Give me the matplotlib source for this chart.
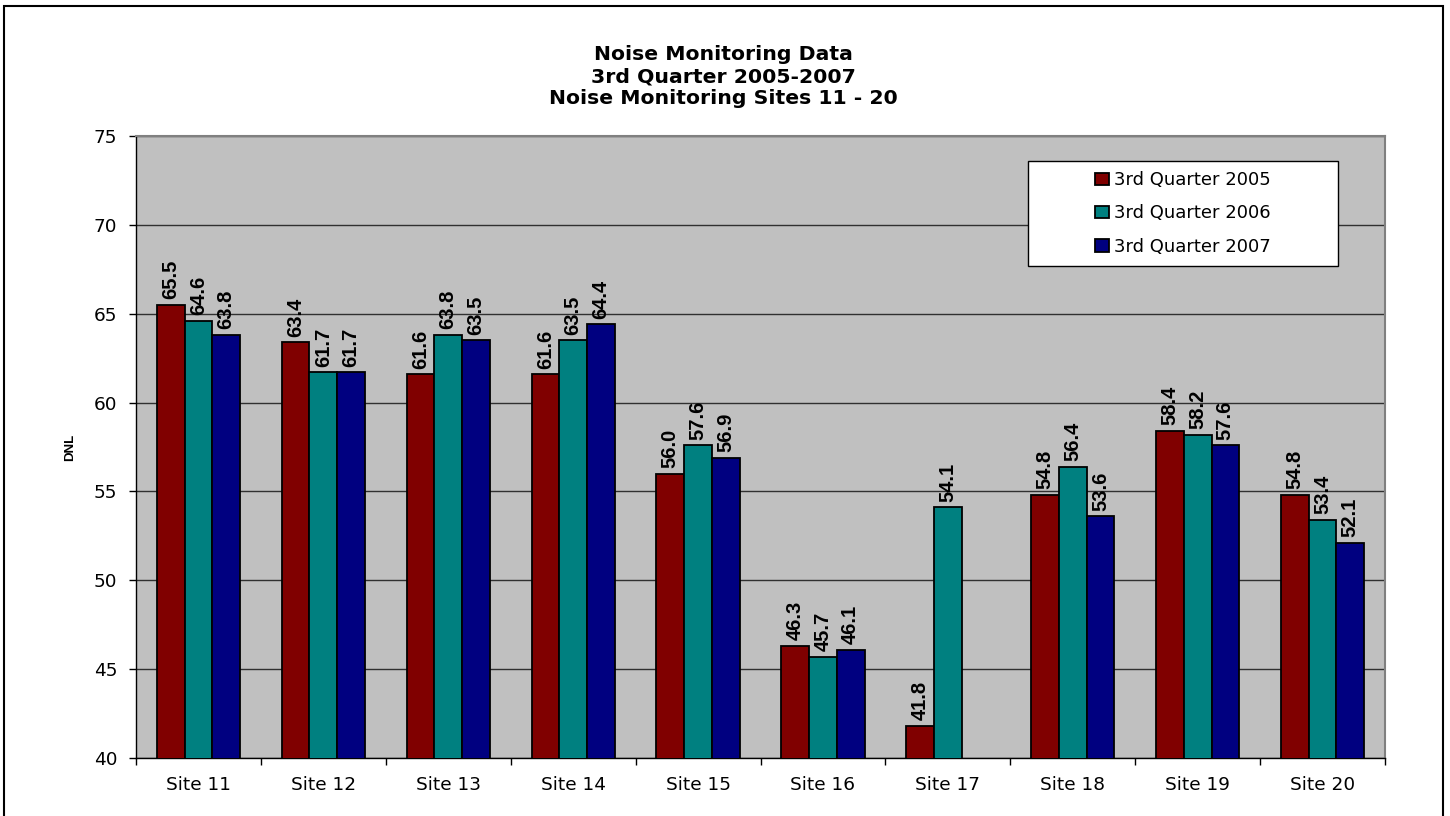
import numpy as np
import matplotlib
matplotlib.use("Agg")
import matplotlib.pyplot as plt
from matplotlib.patches import Rectangle

# dados
sites = ["Site 11", "Site 12", "Site 13", "Site 14", "Site 15",
         "Site 16", "Site 17", "Site 18", "Site 19", "Site 20"]
series = ["3rd Quarter 2005", "3rd Quarter 2006", "3rd Quarter 2007"]
q2005 = [65.5, 63.4, 61.6, 61.6, 56.0, 46.3, 41.8, 54.8, 58.4, 54.8]
q2006 = [64.6, 61.7, 63.8, 63.5, 57.6, 45.7, 54.1, 56.4, 58.2, 53.4]
q2007 = [63.8, 61.7, 63.5, 64.4, 56.9, 46.1, np.nan, 53.6, 57.6, 52.1]
cores = ["#800000", "#008080", "#000080"]

W, H = 1450, 816
fig = plt.figure(figsize=(W / 100, H / 100), dpi=100)
ax = fig.add_axes([136 / W, 1 - 758 / H, 1249 / W, 622 / H])
ax.set_facecolor("#C0C0C0")

x = np.arange(len(sites))
largura = 0.222
for i, (vals, cor, nome) in enumerate(zip([q2005, q2006, q2007], cores, series)):
    pos = x + (i - 1) * largura
    ax.bar(pos, vals, largura, color=cor, edgecolor="black", linewidth=1.3,
           label=nome, zorder=3)
    for px, v in zip(pos, vals):
        if np.isnan(v):
            continue
        ax.annotate(f"{v:.1f}", (px, v), xytext=(0, 4), textcoords="offset points",
                    rotation=90, ha="center", va="bottom",
                    fontsize=14.5, fontweight="bold", family="Liberation Sans",
                    zorder=4)

ax.set_ylim(40, 75)
ax.set_xlim(-0.5, len(sites) - 0.5)
ax.set_yticks(np.arange(40, 76, 5))
ax.set_xticks(x)
ax.set_xticklabels(sites)
ax.set_xticks(np.arange(-0.5, len(sites), 1), minor=True)
ax.tick_params(axis="x", which="major", length=0, pad=13, labelsize=13.3)
ax.tick_params(axis="x", which="minor", length=5, width=1, direction="out")
ax.tick_params(axis="y", length=5, width=1, pad=8.5, labelsize=13.3)
ax.grid(axis="y", color="#303030", linewidth=1, zorder=1)
ax.set_axisbelow(True)

for lado in ["top", "right"]:
    ax.spines[lado].set_color("#808080")
    ax.spines[lado].set_linewidth(1.5)
for lado in ["left", "bottom"]:
    ax.spines[lado].set_color("black")
    ax.spines[lado].set_linewidth(1)

# caixa da legenda
caixa = Rectangle((0.714, 0.791), 0.248, 0.169, transform=ax.transAxes,
                  facecolor="white", edgecolor="black", linewidth=1, zorder=5)
ax.add_patch(caixa)
leg = ax.legend(loc="center", bbox_to_anchor=(0.838, 0.8755), frameon=False,
                fontsize=13, handlelength=0.78, handleheight=0.67,
                handletextpad=0.25, labelspacing=0.85)
leg.set_zorder(6)

fig.text(723 / W, 1 - 77 / H,
         "Noise Monitoring Data\n3rd Quarter 2005-2007\nNoise Monitoring Sites 11 - 20",
         ha="center", va="center", fontsize=14.7, fontweight="bold",
         linespacing=1.2)
fig.text(70 / W, 1 - 447 / H, "DNL", rotation=90, ha="center", va="center",
         fontsize=9.5, fontweight="bold", family="Liberation Sans")

# borda da figura
fig.patches.append(Rectangle((4 / W, -0.02), 1439 / W, 1 - 6 / H + 0.02,
                             transform=fig.transFigure, fill=False,
                             edgecolor="black", linewidth=1.5))

fig.savefig("out.png", dpi=100)
